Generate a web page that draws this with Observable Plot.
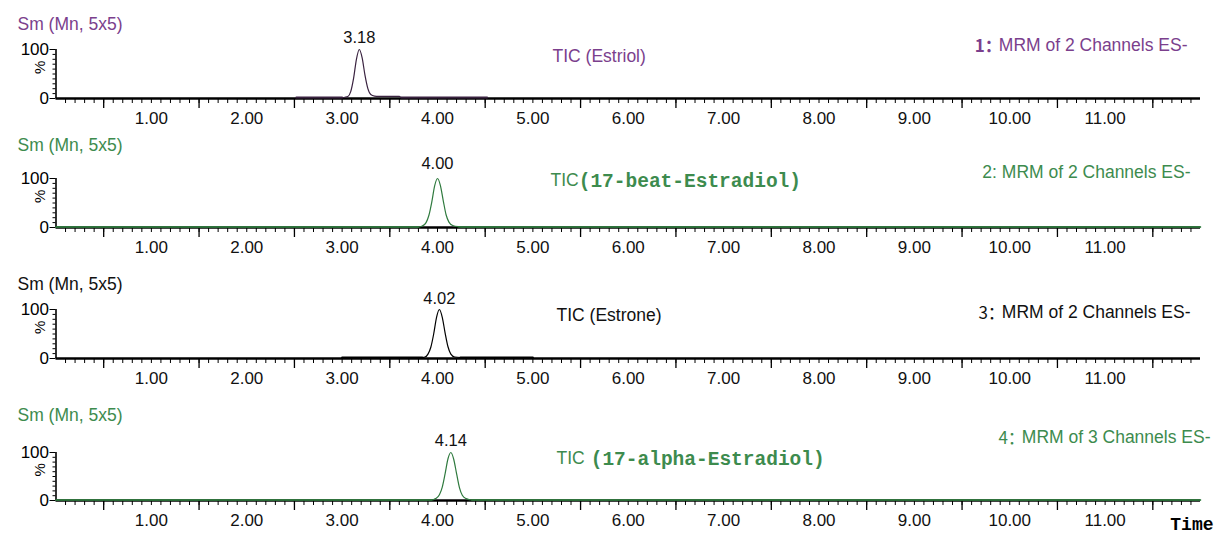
<!DOCTYPE html>
<html><head><meta charset="utf-8">
<script src="https://cdn.jsdelivr.net/npm/d3@7"></script>
<script src="https://cdn.jsdelivr.net/npm/@observablehq/plot@0.6"></script>
<style>
html,body{margin:0;padding:0;background:#fff}
#chart{position:relative;width:1215px;height:534px;overflow:hidden;background:#fff;font-family:"Liberation Sans",Arial,sans-serif}
#chart svg{position:absolute;left:0;overflow:visible}
</style></head><body><div id="chart"></div>
<script>
// ---------- data ----------
const timeLabels = [1, 2, 3, 4, 5, 6, 7, 8, 9, 10, 11];
const smoothing = "Sm (Mn, 5x5)";
const ticPrefix = "TIC";
const compounds = ["(Estriol)", "(17-beat-Estradiol)", "(Estrone)", "(17-alpha-Estradiol)"];
const channelIds = ["1：", "2:", "3：", "4："];
const channelTexts = ["MRM of 2 Channels ES-", "MRM of 2 Channels ES-", "MRM of 2 Channels ES-", "MRM of 3 Channels ES-"];
const peakApex = [3.18, 4.00, 4.02, 4.14];

// trace 1 (Estriol)
const time1 = [2.52, 3.00, 3.03, 3.06, 3.09, 3.12, 3.15, 3.18, 3.21, 3.24, 3.27, 3.30, 3.34, 3.38, 3.60, 3.62, 4.52];
const pct1  = [2, 2, 2.5, 4, 14, 41, 80, 100, 83, 47, 20, 8, 5, 4.5, 4.5, 2, 2];
// trace 2 (17-beta-Estradiol)
const time2 = [0, 3.80, 3.84, 3.88, 3.91, 3.94, 3.97, 4.00, 4.03, 4.06, 4.09, 4.12, 4.16, 4.22, 4.26, 12];
const pct2  = [1, 1, 3, 10, 25, 52, 85, 100, 86, 55, 26, 11, 4, 1.5, 1, 1];
// trace 3 (Estrone)
const time3 = [3.00, 3.84, 3.87, 3.90, 3.93, 3.96, 3.99, 4.02, 4.05, 4.08, 4.11, 4.14, 4.18, 4.24, 5.00];
const pct3  = [2, 2, 3, 9, 23, 50, 84, 100, 84, 52, 24, 9, 3, 2, 2];
// trace 4 (17-alpha-Estradiol)
const time4 = [0, 3.94, 3.98, 4.02, 4.05, 4.08, 4.11, 4.14, 4.17, 4.20, 4.23, 4.26, 4.30, 4.36, 12];
const pct4  = [1, 1, 4, 12, 28, 56, 87, 100, 86, 56, 27, 11, 4, 1, 1];

const traces = [[time1, pct1], [time2, pct2], [time3, pct3], [time4, pct4]];

// ---------- layout / style ----------
const purple = "#7b3f8d", green = "#3d8b4e", black = "#111";
const layout = [
  {y100: 49,  y0: 98,  text: purple, line: "#3a2340", traceW: 2,   title: -25, peak: -12, tic: [552, 7],  ticMono: false, chan: [1187, -4],  prefixFont: "'Noto Sans CJK SC'", prefixWeight: "bold"},
  {y100: 178, y0: 227, text: green,  line: "#2f7a3e", traceW: 1.6, title: -33, peak: -15, tic: [550, 2],  ticMono: true,  chan: [1190, -6],  prefixFont: null},
  {y100: 309, y0: 358, text: black,  line: "#000",    traceW: 2,   title: -25, peak: -11, tic: [556, 6],  ticMono: false, chan: [1190, 3],   prefixFont: "'Noto Sans CJK SC'", prefixWeight: "normal"},
  {y100: 452, y0: 500, text: green,  line: "#2f7a3e", traceW: 1.6, title: -37, peak: -12, tic: [556, 6],  ticMono: true,  chan: [1210, -15], prefixFont: "'Noto Sans CJK SC'", prefixWeight: "normal"}
];
const X0 = 55.5, X1 = 1200, W = 1215;
const sans = "'Liberation Sans', Arial, sans-serif";
const mono = "'Liberation Mono', 'Courier New', monospace";
const FS = 17.5, AXFS = 17, PKFS = 16.5;

const ctx = document.createElement("canvas").getContext("2d");
function measure(s, font) { ctx.font = font; return ctx.measureText(s).width; }

const chart = document.getElementById("chart");
layout.forEach((L, k) => {
  const [ts, vs] = traces[k];
  const data = ts.map((t, j) => ({t, v: vs[j]}));
  const mt = 50, mb = 36, h = L.y0 - L.y100;
  const marks = [];
  // y axis line & ticks
  marks.push(Plot.ruleX([0], {y1: 0, y2: 100, strokeWidth: 1.6, stroke: "#000"}));
  marks.push(Plot.axisY({ticks: d3.range(10, 100, 10), tickSize: 3, tickFormat: () => "", label: null, stroke: "#000"}));
  marks.push(Plot.axisY({ticks: [0, 100], tickSize: 6, tickPadding: 1, label: null, fontSize: AXFS, fill: "#000", stroke: "#000"}));
  marks.push(Plot.text(["%"], {frameAnchor: "left", dx: -16, rotate: -90, fontSize: 15, fill: "#000", lineAnchor: "middle"}));
  // x axis ticks
  marks.push(Plot.axisX({ticks: d3.range(1, 120).map(d => d / 10), tickSize: 5, tickFormat: () => "", label: null, stroke: "#000"}));
  marks.push(Plot.axisX({ticks: d3.range(0.5, 12, 1), tickSize: 10, tickFormat: () => "", label: null, stroke: "#000", strokeWidth: 1.3}));
  marks.push(Plot.axisX({ticks: timeLabels, tickSize: 0, tickPadding: 13, tickFormat: d => d.toFixed(2), label: null, fontSize: AXFS, fill: "#111"}));
  marks.push(Plot.ruleY([0], {strokeWidth: 2.6, stroke: "#000"}));
  // trace: full line, flat parts thicker
  marks.push(Plot.line(data, {x: "t", y: "v", stroke: L.line, strokeWidth: 1.2, curve: "monotone-x"}));
  marks.push(Plot.line(data.filter(d => d.v <= 2), {x: "t", y: "v", z: d => d.t < peakApex[k] ? "a" : "b", stroke: L.line, strokeWidth: L.traceW}));
  // peak apex label
  marks.push(Plot.text([peakApex[k]], {x: d => d, text: d => d.toFixed(2), frameAnchor: "top", dy: L.peak, lineAnchor: "middle", fontSize: PKFS, fill: "#111"}));
  // title
  marks.push(Plot.text([smoothing], {frameAnchor: "top-left", dx: 17 - X0, dy: L.title, textAnchor: "start", lineAnchor: "middle", fontSize: FS, fill: L.text}));
  // TIC label
  if (L.ticMono) {
    const w = measure(ticPrefix, `${FS}px ${sans}`);
    marks.push(Plot.text([ticPrefix], {frameAnchor: "top-left", dx: L.tic[0] - X0, dy: L.tic[1], textAnchor: "start", lineAnchor: "middle", fontSize: FS, fill: L.text}));
    marks.push(Plot.text([compounds[k]], {frameAnchor: "top-left", dx: L.tic[0] - X0 + w + (k === 3 ? 6 : 0), dy: L.tic[1], textAnchor: "start", lineAnchor: "middle", fontSize: 19.5, fontFamily: mono, fontWeight: "bold", fill: L.text}));
  } else {
    marks.push(Plot.text([ticPrefix + " " + compounds[k]], {frameAnchor: "top-left", dx: L.tic[0] - X0, dy: L.tic[1], textAnchor: "start", lineAnchor: "middle", fontSize: FS, fill: L.text}));
  }
  // channel label
  if (L.prefixFont) {
    const w = measure(channelTexts[k], `${FS}px ${sans}`);
    marks.push(Plot.text([channelTexts[k]], {frameAnchor: "top-left", dx: L.chan[0] - X0, dy: L.chan[1], textAnchor: "end", lineAnchor: "middle", fontSize: FS, fill: L.text}));
    marks.push(Plot.text([channelIds[k]], {frameAnchor: "top-left", dx: L.chan[0] - X0 - w + 3, dy: L.chan[1] + 1, textAnchor: "end", lineAnchor: "middle", fontSize: 17, fontFamily: L.prefixFont, fontWeight: L.prefixWeight, fill: L.text}));
  } else {
    marks.push(Plot.text([channelIds[k] + " " + channelTexts[k]], {frameAnchor: "top-left", dx: L.chan[0] - X0, dy: L.chan[1], textAnchor: "end", lineAnchor: "middle", fontSize: FS, fill: L.text}));
  }
  if (k === 3) {
    marks.push(Plot.text(["Time"], {frameAnchor: "bottom-right", dx: 13, dy: 24, textAnchor: "end", lineAnchor: "middle", fontSize: 18, fontFamily: mono, fontWeight: "bold", fill: "#000"}));
  }
  const svg = Plot.plot({
    width: W, height: mt + h + mb,
    marginLeft: X0, marginRight: W - X1, marginTop: mt, marginBottom: mb,
    x: {domain: [0, 12]},
    y: {domain: [0, 100]},
    style: {background: "transparent", overflow: "visible", fontFamily: sans, fontSize: FS + "px", color: "#000"},
    marks
  });
  svg.style.top = (L.y100 - mt) + "px";
  chart.appendChild(svg);
});
</script>
</body></html>
